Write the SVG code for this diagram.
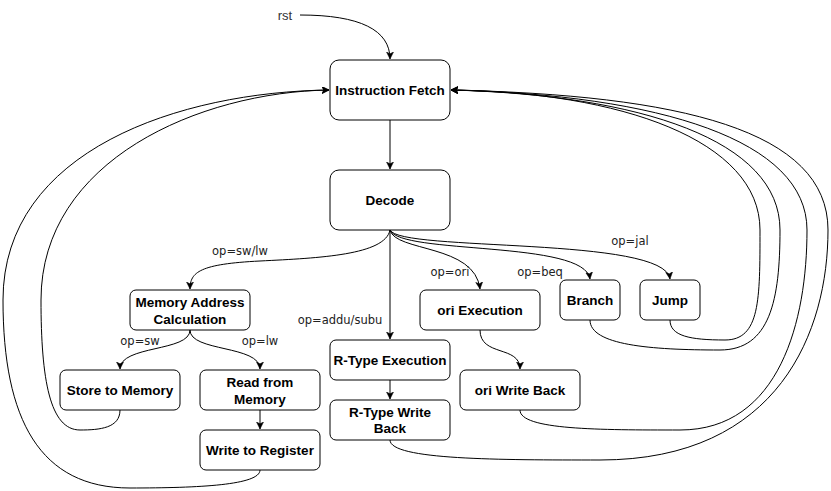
<svg xmlns="http://www.w3.org/2000/svg" width="831" height="491" viewBox="0 0 831 491">
<style>
.n rect{fill:#fff;stroke:#000;stroke-width:1}
.n text{font-family:"Liberation Sans",Arial,sans-serif;font-weight:bold;font-size:13.5px;text-anchor:middle;fill:#000}
.e path{fill:none;stroke:#000;stroke-width:1}
.lbl{font-family:"DejaVu Sans","Liberation Sans",sans-serif;font-size:11.5px;fill:#222;text-anchor:middle}
</style>
<defs>
<marker id="a" markerUnits="userSpaceOnUse" markerWidth="10" markerHeight="10" refX="7" refY="3.5" orient="auto">
<path d="M0,0 L7,3.5 L0,7 L1.8,3.5 Z" fill="#000" stroke="#000" stroke-width="0.5"/>
</marker>
</defs>
<rect width="831" height="491" fill="#fff"/>
<g id="connectors" class="e">
<path d="M300,15 C360,15 390,30 390,59" marker-end="url(#a)"/>
<path d="M390,120 L390,169" marker-end="url(#a)"/>
<path d="M390,230 C385,255 320,258 260,261 C200,264 190,272 190,289" marker-end="url(#a)"/>
<path d="M390,230 L390,339" marker-end="url(#a)"/>
<path d="M390,230 C395,252 475,244 480,289" marker-end="url(#a)"/>
<path d="M390,230 C400,255 585,240 590,279" marker-end="url(#a)"/>
<path d="M390,230 C400,252 665,236 670,279" marker-end="url(#a)"/>
<path d="M190,330 C190,352 120,345 120,369" marker-end="url(#a)"/>
<path d="M190,330 C190,352 260,345 260,369" marker-end="url(#a)"/>
<path d="M260,410 L260,429" marker-end="url(#a)"/>
<path d="M390,380 L390,399" marker-end="url(#a)"/>
<path d="M480,330 C480,357 520,345 520,369" marker-end="url(#a)"/>
<path d="M120,410 C120,428 100,430 80,430 C50,430 41,380 41,300 C41,160 200,92 329,90" marker-end="url(#a)"/>
<path d="M260,470 C260,485 200,488 130,488 C40,488 3,420 3,300 C3,150 180,92 329,90" marker-end="url(#a)"/>
<path d="M670,320 C670,336 690,340 725,340 C760,340 760,300 760,230 C760,140 620,92 451,90" marker-end="url(#a)"/>
<path d="M590,320 C590,345 650,350 720,350 C770,350 780,300 780,230 C780,140 640,95 451,90" marker-end="url(#a)"/>
<path d="M520,410 C520,430 600,430 680,430 C780,430 807,320 807,230 C807,140 660,95 451,90" marker-end="url(#a)"/>
<path d="M390,440 C390,460 500,460 600,460 C780,460 828,330 828,230 C828,130 680,95 451,90" marker-end="url(#a)"/>
</g>
<g id="edge-labels">
<text x="285" y="20" style="font-family:'Liberation Sans',Arial,sans-serif;font-size:13px;fill:#333;text-anchor:middle">rst</text>
<text class="lbl" x="240" y="255">op=sw/lw</text>
<text class="lbl" x="340" y="324">op=addu/subu</text>
<text class="lbl" x="450" y="276">op=ori</text>
<text class="lbl" x="540" y="276">op=beq</text>
<text class="lbl" x="630" y="245">op=jal</text>
<text class="lbl" x="140" y="345">op=sw</text>
<text class="lbl" x="260" y="345">op=lw</text>
</g>
<g id="if" class="n"><rect x="330" y="60" width="120" height="60" rx="9"/><text x="390" y="95">Instruction Fetch</text></g>
<g id="decode" class="n"><rect x="330" y="170" width="120" height="60" rx="9"/><text x="390" y="205">Decode</text></g>
<g id="mac" class="n"><rect x="130" y="290" width="120" height="40" rx="6"/><text x="190" y="307">Memory Address</text><text x="190" y="324">Calculation</text></g>
<g id="store" class="n"><rect x="60" y="370" width="120" height="40" rx="6"/><text x="120" y="395">Store to Memory</text></g>
<g id="read" class="n"><rect x="200" y="370" width="120" height="40" rx="6"/><text x="260" y="387">Read from</text><text x="260" y="404">Memory</text></g>
<g id="wtr" class="n"><rect x="200" y="430" width="120" height="40" rx="6"/><text x="260" y="455">Write to Register</text></g>
<g id="rexec" class="n"><rect x="330" y="340" width="120" height="40" rx="6"/><text x="390" y="365">R-Type Execution</text></g>
<g id="rwb" class="n"><rect x="330" y="400" width="120" height="40" rx="6"/><text x="390" y="417">R-Type Write</text><text x="390" y="433">Back</text></g>
<g id="oriexec" class="n"><rect x="420" y="290" width="120" height="40" rx="6"/><text x="480" y="315">ori Execution</text></g>
<g id="oriwb" class="n"><rect x="460" y="370" width="120" height="40" rx="6"/><text x="520" y="395">ori Write Back</text></g>
<g id="branch" class="n"><rect x="560" y="280" width="60" height="40" rx="6"/><text x="590" y="305">Branch</text></g>
<g id="jump" class="n"><rect x="640" y="280" width="60" height="40" rx="6"/><text x="670" y="305">Jump</text></g>
</svg>
